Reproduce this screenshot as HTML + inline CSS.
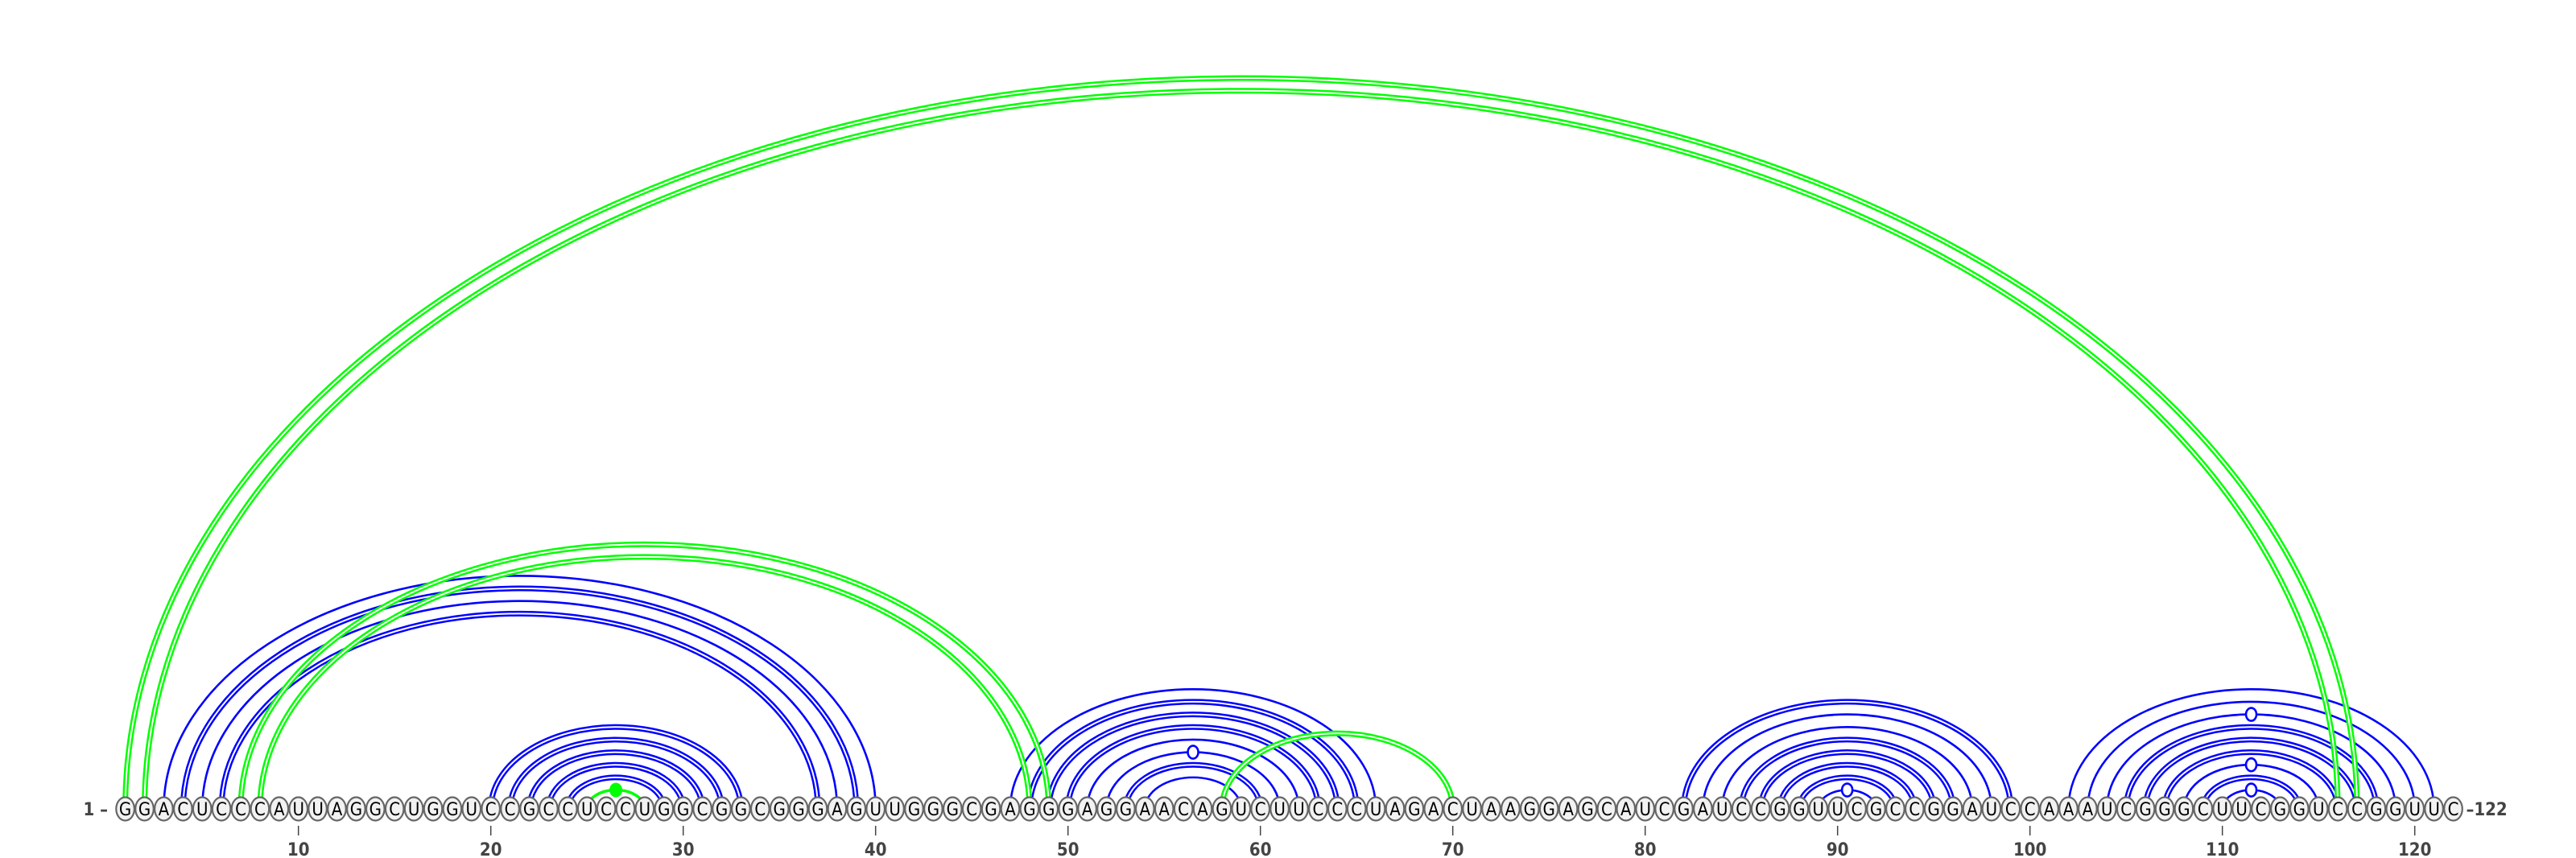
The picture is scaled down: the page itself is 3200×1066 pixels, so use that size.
<!DOCTYPE html>
<html><head><meta charset="utf-8"><style>
html,body{margin:0;padding:0;background:#fff;}
svg{display:block;}
text{font-family:"DejaVu Sans Condensed","Liberation Sans",sans-serif;}
</style></head><body>
<svg id="chart" width="3200" height="1066" viewBox="0 0 3200 1066" xmlns="http://www.w3.org/2000/svg">
<g id="arcs"></g>
<g id="bases"></g>
<g id="axis"></g>
</svg>
<script>
const sequence = "GGACUCCCAUUAGGCUGGUCCGCCUCCUGGCGGCGGGAGUUGGGCGAGGGAGGAACAGUCUUCCCUAGACUAAGGAGCAUCGAUCCGGUUCGCCGGAUCCAAAUCGGGCUUCGGUCCGGUUC";
const tickValues = [10,20,30,40,50,60,70,80,90,100,110,120];
// base pairs: i, j, colour group, double line, marker
const pairI = [3,4,5,6, 20,21,22,23,24, 47,48,49,50,51,52,53,54, 82,83,84,85,86,87,88,89, 102,103,104,105,106,107,108,109,110, 25, 1,2, 7,8, 58];
const pairJ = [40,39,38,37, 33,32,31,30,29, 66,65,64,63,62,61,60,59, 99,98,97,96,95,94,93,92, 121,120,119,118,117,116,115,114,113, 28, 117,116, 49,48, 70];
const pairGroup = ["b","b","b","b", "b","b","b","b","b", "b","b","b","b","b","b","b","b", "b","b","b","b","b","b","b","b", "b","b","b","b","b","b","b","b","b", "g", "g","g", "g","g", "g"];
const pairDouble = [0,1,0,1, 1,1,1,1,1, 0,1,1,1,0,0,1,0, 1,0,0,1,1,1,1,0, 0,0,0,1,1,1,0,1,0, 0, 1,1, 1,1, 1];
const pairMark = ["","","","", "","","","","", "","","","","","open","","", "","","","","","","","open", "","","open","","","","open","","open", "filled", "","", "","", ""];

const NS = "http://www.w3.org/2000/svg";
const x0 = 155.6, step = 23.9, baseY = 1005, ratio = 0.655;
function xPos(n){ return x0 + (n-1)*step; }
const arcs = document.getElementById('arcs');
const colors = {b:"#0000ff", g:"#00ff00"};
function mk(tag, attrs, parent){ const e=document.createElementNS(NS,tag); for(const k in attrs) e.setAttribute(k,attrs[k]); parent.appendChild(e); return e; }
const order = pairI.map((_,k)=>k).sort((a,b)=> (pairGroup[a]===pairGroup[b]?0:(pairGroup[a]==="b"?-1:1)));
order.forEach(k=>{
  const a = xPos(pairI[k]), b = xPos(pairJ[k]);
  const rx = (b-a)/2, ry = rx*ratio;
  const d = `M${a},${baseY} A${rx},${ry} 0 0 1 ${b},${baseY}`;
  const col = colors[pairGroup[k]];
  const g = mk('g',{},arcs);
  
  
  if(pairDouble[k]){
    mk('path',{d:d,fill:"none",stroke:col,"stroke-width":7},g);
    mk('path',{d:d,fill:"none",stroke:"#fff","stroke-width":2},g);
  } else {
    mk('path',{d:d,fill:"none",stroke:col,"stroke-width":pairGroup[k]==="g"?3.5:2.6},g);
  }
  if(pairMark[k]){
    const cx=(a+b)/2, cy=baseY-ry;
    const m = pairMark[k]==="open"
      ? mk('ellipse',{cx:cx,cy:cy,rx:6.5,ry:8,fill:"#fff",stroke:col,"stroke-width":2.6},g)
      : mk('ellipse',{cx:cx,cy:cy,rx:8,ry:9,fill:col},g);
    
    
  }
});
const bases = document.getElementById('bases');
for(let n=1;n<=sequence.length;n++){
  const g = mk('g',{},bases);
  
  
  mk('ellipse',{cx:xPos(n),cy:baseY,rx:11.3,ry:14.5,fill:"#f2f2f2",stroke:"#666","stroke-width":2.2},g);
  const t = mk('text',{x:xPos(n),y:baseY+8,"text-anchor":"middle","font-size":22,fill:"#000"},g);
  t.textContent = sequence[n-1];
}
const axis = document.getElementById('axis');
tickValues.forEach(v=>{
  const l = mk('line',{x1:xPos(v),x2:xPos(v),y1:1026,y2:1038,stroke:"#444","stroke-width":1.5},axis);
  
  
  const t = mk('text',{x:xPos(v),y:1063,"text-anchor":"middle","font-size":22,"font-weight":"bold",fill:"#444"},axis);
  
  
  t.textContent = v;
});
const s = mk('text',{x:134,y:1013,"text-anchor":"end","font-size":22,"font-weight":"bold",fill:"#444"},axis);


s.textContent = "1 \u2013";
const e = mk('text',{x:xPos(sequence.length)+16,y:1013,"text-anchor":"start","font-size":22,"font-weight":"bold",fill:"#444"},axis);


e.textContent = "\u2013" + sequence.length;
</script>
</body></html>
